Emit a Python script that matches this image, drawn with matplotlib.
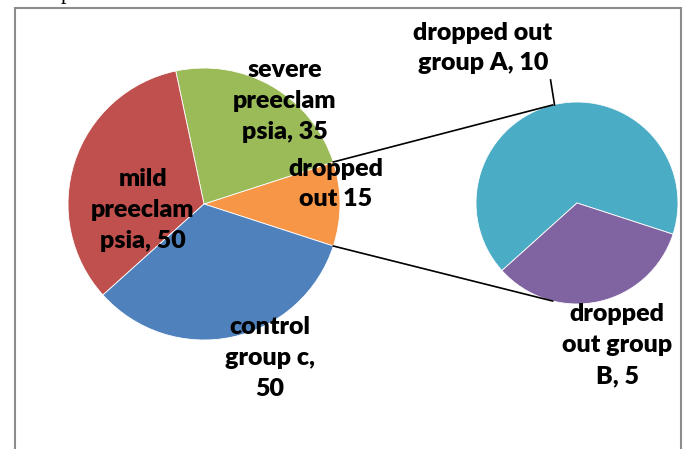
import numpy as np
import matplotlib
matplotlib.use("Agg")
import matplotlib.pyplot as plt
from matplotlib.patches import Rectangle

# Data
main_labels = ["dropped\nout 15", "severe\npreeclam\npsia, 35", "mild\npreeclam\npsia, 50", "control\ngroup c,\n50"]
main_values = [15, 35, 50, 50]
main_colors = ["#F79646", "#9BBB59", "#C0504D", "#4F81BD"]

sub_labels = ["dropped out\ngroup A, 10", "dropped\nout group\nB, 5"]
sub_values = [10, 5]
sub_colors = ["#4BACC6", "#8064A2"]

W, H = 687, 449
fig = plt.figure(figsize=(W / 100, H / 100), dpi=100)
ax = fig.add_axes([0, 0, 1, 1])

main_c = (204, H - 204)
main_r = 136
sub_c = (577, H - 203)
sub_r = 101

start = -360 * main_values[0] / sum(main_values) / 2
ax.pie(main_values, colors=main_colors, startangle=start, counterclock=True,
       center=main_c, radius=main_r, frame=True,
       wedgeprops=dict(edgecolor="white", linewidth=0.6))
ax.pie(sub_values, colors=sub_colors, startangle=start, counterclock=True,
       center=sub_c, radius=sub_r, frame=True,
       wedgeprops=dict(edgecolor="white", linewidth=0.6))

ax.set_xlim(0, W)
ax.set_ylim(0, H)
ax.set_aspect("equal")
ax.axis("off")

# connector lines
a = np.deg2rad(-start)
p_top = (main_c[0] + main_r * np.cos(a), main_c[1] + main_r * np.sin(a))
p_bot = (main_c[0] + main_r * np.cos(a), main_c[1] - main_r * np.sin(a))
b = np.deg2rad(104)
q_top = (sub_c[0] + sub_r * np.cos(b), sub_c[1] + sub_r * np.sin(b))
q_bot = (sub_c[0] + sub_r * np.cos(b), sub_c[1] - sub_r * np.sin(b))
ax.plot([p_top[0], q_top[0]], [p_top[1], q_top[1]], color="black", lw=1.2)
ax.plot([p_bot[0], q_bot[0]], [p_bot[1], q_bot[1]], color="black", lw=1.2)
# leader for group A label
ax.plot([q_top[0] + 2, q_top[0] - 2], [q_top[1], H - 80], color="black", lw=1.2)

font = dict(family=["Lato", "DejaVu Sans"], fontweight="heavy", fontsize=18,
            color="black", ha="center", va="center", linespacing=1.5)
ax.text(336, H - 184, main_labels[0], **font)
ax.text(285, H - 101, main_labels[1], **font)
ax.text(143, H - 210, main_labels[2], **font)
ax.text(270, H - 358, main_labels[3], **font)
ax.text(483, H - 48, sub_labels[0], **font)
ax.text(617, H - 345, sub_labels[1], **font)

# fragment of document text above the chart frame
ax.text(61, H + 1, "p", family="Liberation Serif", fontsize=16,
        ha="left", va="baseline", color="black")

# border
ax.add_patch(Rectangle((14.5, -10), 666.5, H - 7.5 + 10, fill=False,
                       edgecolor="#8C8C8C", lw=1.5, clip_on=False))

fig.savefig("out.png", dpi=100)
